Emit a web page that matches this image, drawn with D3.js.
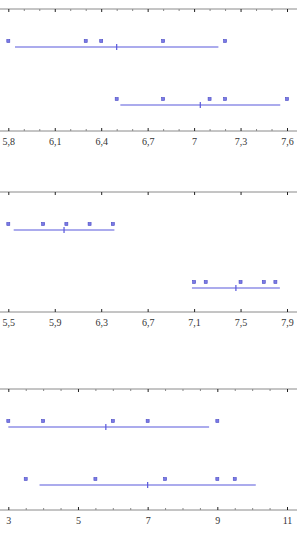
<!DOCTYPE html>
<html>
<head>
<meta charset="utf-8">
<script src="https://cdn.jsdelivr.net/npm/d3@7"></script>
<style>
  body { margin: 0; background: #fff; }
  svg text { font-family: "Liberation Serif", "DejaVu Serif", serif; font-size: 10px; fill: #333; }
</style>
</head>
<body>
<div id="chart"></div>
<script>
//Datos (dos muestras por panel)
const panel1Rows = [
    [5.8, 6.3, 6.4, 6.8, 7.2],
    [6.5, 6.8, 7.1, 7.2, 7.6]
]
const panel2Rows = [
    [5.5, 5.8, 6.0, 6.2, 6.4],
    [7.1, 7.2, 7.5, 7.7, 7.8]
]
const panel3Rows = [
    [3, 4, 6, 7, 9],
    [3.5, 5.5, 7.5, 9, 9.5]
]
const panel1Ticks = [5.8, 6.1, 6.4, 6.7, 7, 7.3, 7.6]
const panel2Ticks = [5.5, 5.9, 6.3, 6.7, 7.1, 7.5, 7.9]
const panel3Ticks = [3, 5, 7, 9, 11]
const panel1Minor = [5.9, 6, 6.2, 6.3, 6.5, 6.6, 6.8, 6.9, 7.1, 7.2, 7.4, 7.5]
const panel2Minor = []
const panel3Minor = [3.5, 4, 4.5, 5.5, 6, 6.5, 7.5, 8, 8.5, 9.5, 10, 10.5]
// t de Student, 4 grados de libertad, 95%
const tCrit = 2.776

//Constantes
const width = 297
const height = 544
const margin = { left: 8.3, right: 10 }
const panels = [
    { rows: panel1Rows, ticks: panel1Ticks, minor: panel1Minor, top: 9, bottom: 131 },
    { rows: panel2Rows, ticks: panel2Ticks, minor: panel2Minor, top: 192, bottom: 312 },
    { rows: panel3Rows, ticks: panel3Ticks, minor: panel3Minor, top: 389, bottom: 510 }
]
const lineColor = "#5858dc"
const fmt = d => String(d).replace(".", ",")

const svg = d3.select("#chart")
    .append("svg")
    .attr("width", width)
    .attr("height", height)

panels.forEach((p, pi) => {
    const x = d3.scaleLinear()
        .domain(d3.extent(p.ticks))
        .range([margin.left, width - margin.right])
    const y = d3.scaleLinear().domain([0, 1]).range([p.top + 32, p.top + 90])

    const g = svg.append("g").attr("class", "panel")

    svg.append("clipPath").attr("id", "clip" + pi)
        .append("rect")
        .attr("x", x.range()[0]).attr("y", p.top)
        .attr("width", x.range()[1] - x.range()[0])
        .attr("height", p.bottom - p.top)

    //Ejes: lineas completas
    ;[p.top, p.bottom].forEach(yy => {
        g.append("line")
            .attr("x1", 0).attr("x2", width)
            .attr("y1", yy).attr("y2", yy)
            .attr("stroke", "#8a8a8a")
    })

    const topAxis = d3.axisTop(x).tickValues(p.ticks).tickSize(-3).tickFormat("")
    const botAxis = d3.axisBottom(x).tickValues(p.ticks).tickSizeInner(-3).tickSizeOuter(0)
        .tickPadding(7).tickFormat(fmt)
    const topMinor = d3.axisTop(x).tickValues(p.minor).tickSize(-2).tickFormat("")
    const botMinor = d3.axisBottom(x).tickValues(p.minor).tickSize(-2).tickFormat("")

    const axes = [
        [topAxis, p.top, "#222"], [botAxis, p.bottom, "#222"],
        [topMinor, p.top, "#888"], [botMinor, p.bottom, "#888"]
    ]
    axes.forEach(([ax, yy, col]) => {
        const a = g.append("g").attr("transform", `translate(0, ${yy})`).call(ax)
        a.select(".domain").remove()
        a.selectAll("line").attr("stroke", col)
        a.selectAll("text").attr("fill", "#333").style("font-size", "10px")
            .style("font-family", "'Liberation Serif', serif")
    })

    //Muestras
    p.rows.forEach((vals, ri) => {
        const mean = d3.mean(vals)
        const half = tCrit * d3.deviation(vals) / Math.sqrt(vals.length)
        const yl = y(ri) + 6

        g.append("line")
            .attr("clip-path", `url(#clip${pi})`)
            .attr("x1", x(mean - half)).attr("x2", x(mean + half))
            .attr("y1", yl).attr("y2", yl)
            .attr("stroke", lineColor).attr("stroke-width", 1.2)

        g.append("line")
            .attr("x1", x(mean)).attr("x2", x(mean))
            .attr("y1", yl - 3).attr("y2", yl + 3)
            .attr("stroke", lineColor).attr("stroke-width", 1.2)

        g.selectAll(null)
            .data(vals)
            .enter()
            .append("rect")
            .attr("x", d => x(d) - 1.5)
            .attr("y", y(ri) - 1.5)
            .attr("width", 3)
            .attr("height", 3)
            .attr("fill", "#7a7ae6")
            .attr("stroke", "#4a4ac4")
            .attr("stroke-width", 0.6)
    })
})
</script>
</body>
</html>
